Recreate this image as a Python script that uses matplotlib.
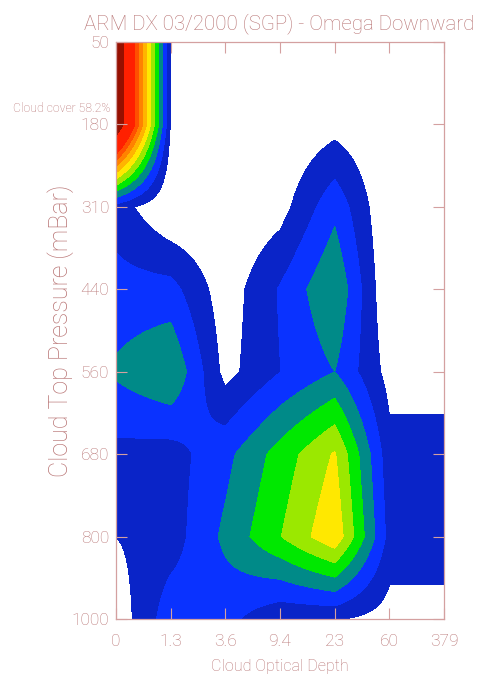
import numpy as np
import matplotlib
matplotlib.use("Agg")
import matplotlib.pyplot as plt

plt.rcParams["font.family"] = ["Roboto", "DejaVu Sans"]
plt.rcParams["font.weight"] = "light"

# Axis categories
tau_labels = ["0", "1.3", "3.6", "9.4", "23", "60", "379"]
pres_labels = ["50", "180", "310", "440", "560", "680", "800", "1000"]

# Joint cloud-top-pressure / optical-depth frequency, one row per pressure tick
row_50 = [14.8, 0.9, 0.0, 0.0, 0.0, 0.0, 0.0]
row_180 = [14.8, 0.9, 0.0, 0.0, 0.6, 0.0, 0.0]
row_310 = [1.5, 0.0, 0.0, 0.57, 2.7, 0.0, 0.0]
row_440 = [2.4, 2.36, 0.4, 2.09, 3.95, 0.0, 0.0]
row_560 = [3.15, 3.96, 0.65, 1.98, 3.0, 0.62, 0.62]
row_680 = [1.7, 1.56, 2.69, 4.41, 6.1, 1.35, 1.35]
row_800 = [1.0, 1.5, 3.22, 4.95, 6.8, 1.64, 1.64]
row_1000 = [0.32, 2.59, 2.3, 1.19, 1.1, 0.55, 0.55]

levels = [1, 2, 3, 4, 5, 6, 7, 8, 9, 10, 13, 1000]
fill_colors = ["#0a24c8", "#0a32ff", "#008a88", "#00e800", "#9be800",
               "#ffe800", "#ffb400", "#ff8200", "#ff5000", "#ff2000", "#961000"]

cloud_cover = "58.2%"
text_color = "#b87474"
axis_color = "#d4a0a0"

grid = np.array([row_50, row_180, row_310, row_440, row_560,
                 row_680, row_800, row_1000])
xi = np.arange(len(tau_labels))
yi = np.arange(len(pres_labels))

# bilinear refinement of the tick grid before contouring
xs = np.linspace(0, xi[-1], 601)
ys = np.linspace(0, yi[-1], 701)
along_x = np.array([np.interp(xs, xi, r) for r in grid])
fine = np.array([np.interp(ys, yi, along_x[:, k]) for k in range(len(xs))]).T
X, Y = np.meshgrid(xs, ys)

W, H = 483, 681
fig = plt.figure(figsize=(W / 100, H / 100), dpi=100)
ax = fig.add_axes([116 / W, 1 - 619 / H, (444 - 116) / W, (619 - 42) / H])
ax.contourf(X, Y, fine, levels=levels, colors=fill_colors, antialiased=False)
ax.set_xlim(0, xi[-1])
ax.set_ylim(yi[-1], 0)

ax.set_xticks(xi)
ax.set_xticklabels(tau_labels)
ax.set_yticks(yi)
ax.set_yticklabels(pres_labels)
ax.tick_params(direction="in", length=8, width=0.8, color=axis_color,
               labelcolor=text_color, labelsize=12.5, top=True, right=True)
ax.tick_params(axis="x", pad=11)
ax.tick_params(axis="y", pad=5)
for s in ax.spines.values():
    s.set_color(axis_color)
    s.set_linewidth(0.9)

fig.text(279 / W, 1 - 24 / H, "ARM DX 03/2000 (SGP) - Omega Downward",
         ha="center", va="center", fontsize=14.8, color=text_color)
fig.text(280 / W, 1 - 667 / H, "Cloud Optical Depth", ha="center",
         va="center", fontsize=11.6, color=text_color)
fig.text(61 / W, 1 - 331 / H, "Cloud Top Pressure (mBar)", ha="center",
         va="center", rotation=90, fontsize=18, color=text_color)
fig.text(110 / W, 1 - 109 / H, "Cloud cover " + cloud_cover, ha="right",
         va="center", fontsize=8.8, color=text_color)

fig.savefig("out.png", dpi=100)
